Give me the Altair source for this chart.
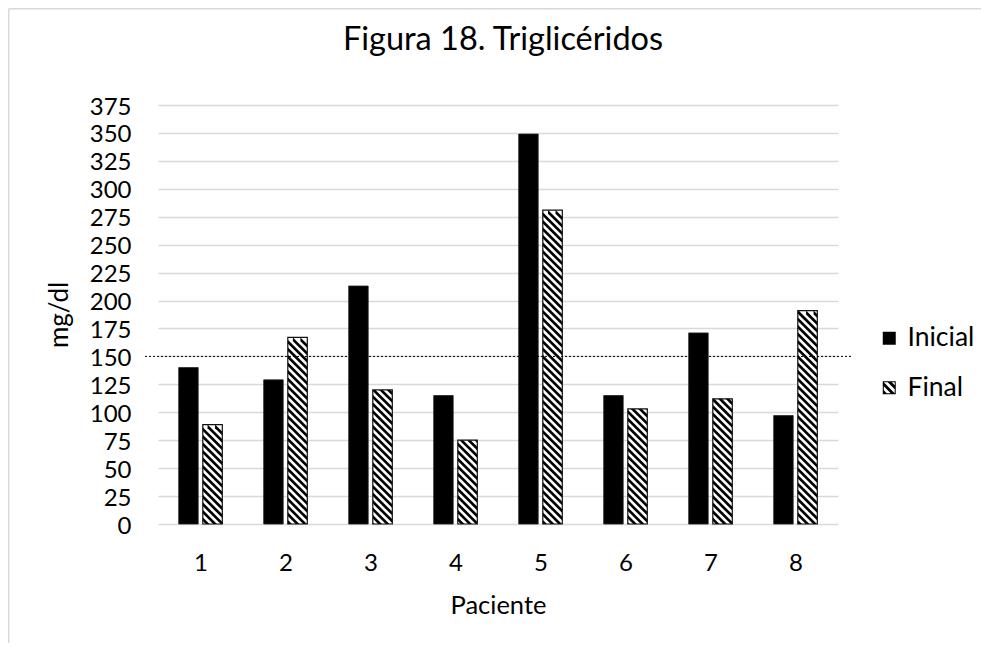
import altair as alt
import pandas as pd
import numpy as np

# ---------------- data ----------------
pacientes = [1, 2, 3, 4, 5, 6, 7, 8]
inicial = [140, 129, 213, 115, 349, 115, 171, 97]
final = [89, 167, 120, 75, 281, 103, 112, 191]
series = ["Inicial", "Final"]
y_ticks = list(range(0, 376, 25))
umbral = 150
title_text = "Figura 18. Triglicéridos"
x_title = "Paciente"
y_title = "mg/dl"

# ---------------- layout / style ----------------
W, H = 680, 419
X_MIN, X_MAX = 0.5, 8.5
Y_MAX = 375
PXX = W / (X_MAX - X_MIN)
PXY = H / Y_MAX
GAP = 2.3      # px from group centre to bar edge
BW = 19.5      # px bar width
PERIOD = 7.5   # hatch period (px)
BAND = 3.8     # hatch black band (px)
FONT = "Lato"
GRID = "#d9d9d9"

rows = []
for p, a, b in zip(pacientes, inicial, final):
    rows.append({"Paciente": p, "Serie": series[0], "valor": a})
    rows.append({"Paciente": p, "Serie": series[1], "valor": b})
df = pd.DataFrame(rows)

# hatch stripes for the "Final" bars, derived from the data values
stripe_rows = []
sid = 0
for p, v in zip(pacientes, final):
    L = (p - X_MIN) * PXX + GAP
    R = L + BW
    T = H - v * PXY
    B = H
    k0 = int(np.floor((T - R - BAND) / PERIOD)) - 1
    k1 = int(np.ceil((B - L) / PERIOD)) + 1
    for k in range(k0, k1 + 1):
        c1 = k * PERIOD
        c2 = c1 + BAND
        xs = sorted({round(min(max(s, L), R), 6) for s in (L, R, T - c1, B - c2, B - c1, T - c2)})
        pts = []
        for sx in xs:
            up = max(T, sx + c1)
            lo = min(B, sx + c2)
            if lo >= up - 1e-9:
                pts.append((sx, up, max(lo, up)))
        if len(pts) >= 2:
            for sx, up, lo in pts:
                stripe_rows.append({"id": sid, "sx": sx / PXX + X_MIN,
                                    "sy": (H - up) / PXY, "sy2": (H - lo) / PXY})
            sid += 1
stripes = pd.DataFrame(stripe_rows)


# legend symbol path for "Final": frame + diagonal hatch
def clip_poly(poly, a, b, c):
    out = []
    n = len(poly)
    for i in range(n):
        P = poly[i]
        Q = poly[(i + 1) % n]
        fp = a * P[0] + b * P[1] - c
        fq = a * Q[0] + b * Q[1] - c
        if fp <= 0:
            out.append(P)
        if (fp <= 0) != (fq <= 0):
            t = fp / (fp - fq)
            out.append((P[0] + t * (Q[0] - P[0]), P[1] + t * (Q[1] - P[1])))
    return out


s_in = 0.84
path = "M-1,-1L1,-1L1,1L-1,1Z" + f"M{-s_in},{-s_in}L{-s_in},{s_in}L{s_in},{s_in}L{s_in},{-s_in}Z"
per = 1.23
bnd = 0.62
sq = [(-s_in, -s_in), (s_in, -s_in), (s_in, s_in), (-s_in, s_in)]
for k in range(-4, 5):
    c1 = k * per
    c2 = c1 + bnd
    poly = clip_poly(sq, -1, 1, c2)
    poly = clip_poly(poly, 1, -1, -c1) if poly else poly
    if len(poly) >= 3:
        path += "M" + "L".join(f"{x:.3f},{y:.3f}" for x, y in poly) + "Z"
final_shape = path

# ---------------- encodings ----------------
xscale = alt.Scale(domain=[X_MIN, X_MAX], nice=False, zero=False)
yscale = alt.Scale(domain=[0, Y_MAX], nice=False, zero=True)

xaxis = alt.Axis(values=pacientes, format="d", grid=False, domain=False, ticks=False,
                 labelFont=FONT, labelFontSize=24, labelColor="#000", labelPadding=46,
                 labelBaseline="alphabetic", labelFlush=False,
                 title=x_title, titleFont=FONT, titleFontSize=25.5, titleFontWeight="normal",
                 titleColor="#000", titleX=W / 2, titleY=89, titleBaseline="alphabetic",
                 titleAlign="center")
yaxis = alt.Axis(values=y_ticks, grid=True, gridColor=GRID, gridWidth=1.5, domain=False,
                 ticks=False, labelFont=FONT, labelFontSize=24, labelColor="#000",
                 labelPadding=27, labelBaseline="alphabetic", labelOffset=9,
                 labelOverlap=False, labelFlush=False,
                 title=y_title, titleFont=FONT, titleFontSize=26, titleFontWeight="normal",
                 titleColor="#000", titleX=-98.5, titleY=H / 2, titleAngle=270,
                 titleBaseline="middle", titleAlign="center")


def X(field):
    return alt.X(field, type="quantitative", scale=xscale, axis=xaxis)


def Y(field):
    return alt.Y(field, type="quantitative", scale=yscale, axis=yaxis, stack=None)


base = alt.Chart(df).transform_calculate(
    xl=f"datum.Paciente + (datum.Serie == '{series[0]}' ? {-(GAP + BW) / PXX} : {GAP / PXX})",
    xr=f"datum.Paciente + (datum.Serie == '{series[0]}' ? {-GAP / PXX} : {(GAP + BW) / PXX})",
)

bars_ini = base.transform_filter(f"datum.Serie == '{series[0]}'").mark_rect(
    color="black", stroke="#222", strokeWidth=0.8
).encode(x=X("xl"), x2="xr:Q", y=Y("valor"), y2=alt.datum(0))

bars_fin = base.transform_filter(f"datum.Serie == '{series[1]}'").mark_rect(
    color="white"
).encode(x=X("xl"), x2="xr:Q", y=Y("valor"), y2=alt.datum(0))

hatch = alt.Chart(stripes).mark_area(color="black", interpolate="linear", strokeWidth=0).encode(
    x=X("sx"), y=Y("sy"), y2="sy2:Q", detail="id:N",
)

outline = base.transform_filter(f"datum.Serie == '{series[1]}'").mark_rect(
    fill=None, fillOpacity=0, stroke="#111", strokeWidth=1.2
).encode(x=X("xl"), x2="xr:Q", y=Y("valor"), y2=alt.datum(0))

ref_line = alt.Chart(pd.DataFrame({"u": [umbral]})).mark_rule(
    color="black", strokeWidth=1, strokeDash=[2, 2]
).encode(y=Y("u"), x=alt.value(-13), x2=alt.value(694))

legend_pts = alt.Chart(df).mark_point(filled=True, size=0, color="black", opacity=1).encode(
    x=X("Paciente"),
    y=Y("valor"),
    shape=alt.Shape("Serie:N", scale=alt.Scale(domain=series, range=["square", final_shape]),
                    legend=alt.Legend(title=None, orient="none", legendX=718, legendY=220,
                                      symbolSize=169, symbolFillColor="black",
                                      symbolStrokeWidth=0, labelFont=FONT, labelFontSize=26.5,
                                      labelColor="#000", labelOffset=5, rowPadding=22.5,
                                      padding=0)),
)

one = pd.DataFrame({"k": [0]})
frame_top = alt.Chart(one).mark_rule(color=GRID, strokeWidth=1.5).encode(
    x=alt.value(-149.3), x2=alt.value(1000), y=alt.value(-96.3)
)
frame_left = alt.Chart(one).mark_rule(color=GRID, strokeWidth=1.5).encode(
    x=alt.value(-149.3), y=alt.value(-96.3), y2=alt.value(1000)
)

chart = alt.layer(frame_top, frame_left, bars_ini, bars_fin, hatch, outline, ref_line,
                  legend_pts).properties(
    width=W, height=H,
    background="white",
    autosize=alt.AutoSizeParams(type="none"),
    padding={"left": 150, "top": 97, "right": 143, "bottom": 119},
    title=alt.TitleParams(text=title_text, font=FONT, fontSize=32.5, fontWeight="normal",
                          color="#000", anchor="middle", frame="group", offset=-75,
                          baseline="alphabetic", dx=5),
).configure_view(stroke=None)

chart.save("out.html", embed_options={"renderer": "svg", "actions": False})
